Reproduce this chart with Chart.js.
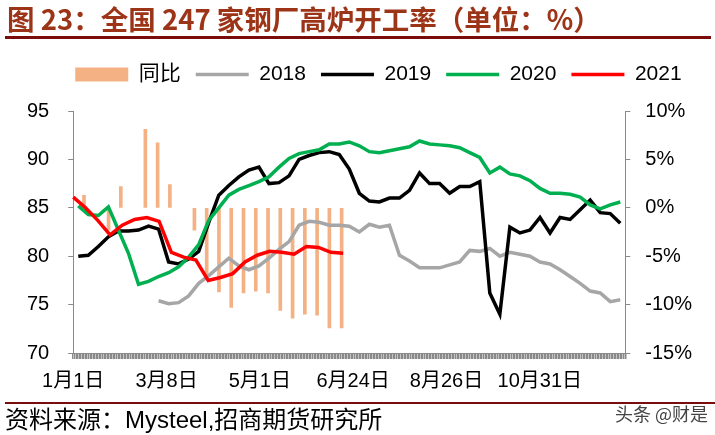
<!DOCTYPE html>
<html>
<head>
<meta charset="utf-8">
<script src="https://cdn.jsdelivr.net/npm/chart.js@4.4.0/dist/chart.umd.min.js"></script>
<style>
  html, body { margin: 0; padding: 0; background: #fff; }
  #wrap { position: relative; width: 715px; height: 435px; overflow: hidden; font-family: "Liberation Sans", "Noto Sans CJK SC", sans-serif; }
  #chart { position: absolute; left: 0; top: 0; }
  .title { position: absolute; left: 7px; top: 5px; line-height: 1; font-family: "Noto Sans CJK SC", sans-serif; font-size: 27.5px; font-weight: bold; color: #9c3418; white-space: nowrap; }
  .rule-top { position: absolute; left: 5px; top: 36px; width: 706px; height: 3px; background: #7b0c0c; }
  .rule-bottom { position: absolute; left: 5px; top: 402px; width: 710px; height: 2px; background: #7b0c0c; }
  .source { position: absolute; left: 5px; top: 408px; line-height: 1; font-size: 24px; color: #000; white-space: nowrap; }
  .mark { position: absolute; left: 615px; top: 404px; line-height: 1; font-family: "Noto Sans CJK SC", sans-serif; font-size: 18px; color: #444; white-space: nowrap; text-shadow: 0 0 2px #fff; }
</style>
</head>
<body>
<div id="wrap">
  <canvas id="chart" width="715" height="435"></canvas>
  <div class="title">图 23：全国 247 家钢厂高炉开工率（单位：%）</div>
  <div class="rule-top"></div>
  <div class="rule-bottom"></div>
  <div class="source">资料来源：Mysteel,招商期货研究所</div>
  <div class="mark">头条 @财是</div>
</div>
<script>
// 横轴标签
const xTickLabels = ['1月1日', '3月8日', '5月1日', '6月24日', '8月26日', '10月31日'];

// 2018-2020 周度数据 (55 周)
const weeks = Array.from({ length: 55 }, (_, i) => '第' + (i + 1) + '周');
// 2021 及同比 (次坐标轴)
const weeks2021 = Array.from({ length: 46 }, (_, i) => '第' + (i + 1) + '周');

const s2018 = [null, null, null, null, null, null, null, null,
  75.4, 75.1, 75.2, 75.9, 77.2, 78.0, 78.9, 79.8, 79.0, 78.6, 79.0, 79.8,
  80.7, 81.5, 83.2, 83.6, 83.5, 83.2, 83.2, 83.1, 82.5, 83.3, 83.0, 83.2,
  80.1, 79.5, 78.8, 78.8, 78.8, 79.1, 79.4, 80.6, 80.5, 80.8, 80.0, 80.4,
  80.2, 80.0, 79.4, 79.2, 78.6, 77.9, 77.2, 76.4, 76.2, 75.3, 75.5];

const s2019 = [80.0, 80.1, 81.0, 82.0, 82.6, 82.6, 82.7, 83.1, 82.8, 79.4,
  79.2, 79.7, 80.5, 83.5, 86.3, 87.3, 88.2, 88.9, 89.2, 87.5, 87.6, 88.3,
  90.0, 90.4, 90.7, 90.8, 90.5, 89.0, 86.5, 85.7, 85.6, 86.0, 86.0, 86.8,
  88.6, 87.5, 87.5, 86.5, 87.2, 87.2, 87.7, 76.2, 74.0, 83.0, 82.4, 82.7,
  84.0, 82.4, 84.0, 83.8, 84.8, 85.8, 84.5, 84.4, 83.4];

const s2020 = [85.2, 84.3, 84.2, 85.1, 82.7, 80.3, 77.1, 77.4, 77.9, 78.3,
  78.9, 79.9, 81.2, 83.7, 85.0, 86.3, 86.9, 87.3, 87.7, 88.2, 89.2, 90.1,
  90.6, 90.8, 91.0, 91.6, 91.6, 91.8, 91.4, 90.8, 90.7, 90.9, 91.1, 91.3,
  91.9, 91.6, 91.5, 91.4, 91.2, 90.7, 90.2, 88.6, 89.2, 88.5, 88.3, 87.8,
  87.0, 86.5, 86.5, 86.4, 86.1, 85.3, 84.9, 85.3, 85.6];

const s2021 = [86.1, 85.0, 83.7, 82.2, 83.2, 83.8, 84.0, 83.6, 80.4, 79.9,
  79.6, 77.5, 77.8, 78.2, 79.4, 80.1, 80.5, 80.4, 80.2, 81.0, 80.9, 80.4, 80.3];

// 同比 (%)
const yoy = [null, 1.3, null, -2.3, 2.2, null, 8.1, 6.7, 2.4, null,
  -2.3, -7.0, -8.7, -10.3, -8.8, -8.6, -8.8, -10.6, -11.4, -11.0, -11.1, -12.4, -12.4];

const fontFamily = '"Liberation Sans", "Noto Sans CJK SC", sans-serif';
Chart.defaults.font.family = fontFamily;
Chart.defaults.color = '#000';

// 图例位置微调: 左端对齐绘图区, 上移
const legendNudge = {
  id: 'legendNudge',
  afterLayout(chart) {
    const lg = chart.legend;
    const dx = chart.chartArea.left + 2 - lg.left - lg.options.labels.padding;
    lg.left += dx; lg.right += dx;
    lg.top -= 16; lg.bottom -= 16;
  }
};

const axisGrey = '#8a8a8a';

new Chart(document.getElementById('chart'), {
  type: 'line',
  data: {
    labels: weeks,
    datasets: [
      {
        type: 'bar',
        label: '同比',
        data: yoy,
        xAxisID: 'x2',
        yAxisID: 'y2',
        backgroundColor: '#F4B183',
        borderWidth: 0,
        barThickness: 3,
        pointStyle: 'rect',
        order: 5
      },
      {
        label: '2018',
        data: s2018,
        borderColor: '#A6A6A6',
        backgroundColor: '#A6A6A6',
        borderWidth: 3.5,
        order: 4
      },
      {
        label: '2019',
        data: s2019,
        borderColor: '#000000',
        backgroundColor: '#000000',
        borderWidth: 3.5,
        order: 3
      },
      {
        label: '2020',
        data: s2020,
        borderColor: '#00B050',
        backgroundColor: '#00B050',
        borderWidth: 3.5,
        order: 2
      },
      {
        label: '2021',
        data: s2021,
        xAxisID: 'x2',
        borderColor: '#FF0000',
        backgroundColor: '#FF0000',
        borderWidth: 3.5,
        order: 1
      }
    ]
  },
  options: {
    responsive: false,
    animation: false,
    layout: { padding: { left: 8, right: 8, top: 65, bottom: 32 } },
    elements: {
      line: { tension: 0 },
      point: { radius: 0, hoverRadius: 0, pointStyle: 'line' }
    },
    plugins: {
      legend: {
        position: 'top',
        align: 'start',
        labels: {
          usePointStyle: true,
          pointStyleWidth: 53,
          boxHeight: 14,
          padding: 15,
          font: { size: 21 },
          sort: (a, b) => a.datasetIndex - b.datasetIndex
        }
      },
      tooltip: { enabled: false }
    },
    scales: {
      x: {
        type: 'category',
        display: false,
        offset: true
      },
      x2: {
        type: 'category',
        labels: weeks2021,
        display: false,
        offset: false
      },
      xb: {
        type: 'linear',
        position: 'bottom',
        min: 0,
        max: 355,
        grid: { drawOnChartArea: false, tickLength: 6, color: axisGrey, lineWidth: 1.5 },
        border: { color: axisGrey, width: 1 },
        ticks: {
          stepSize: 1,
          autoSkip: false,
          maxRotation: 0,
          minRotation: 0,
          padding: 10,
          font: { size: 20 },
          callback: (v) => (v % 60 === 0 && v / 60 < xTickLabels.length) ? xTickLabels[v / 60] : ''
        }
      },
      y: {
        position: 'left',
        min: 70,
        max: 95,
        grid: { drawOnChartArea: false, tickLength: 5, color: axisGrey },
        border: { color: axisGrey },
        ticks: { stepSize: 5, padding: 19, font: { size: 20 } }
      },
      y2: {
        position: 'right',
        min: -15,
        max: 10,
        grid: { drawOnChartArea: false, tickLength: 5, color: axisGrey },
        border: { color: axisGrey },
        ticks: { stepSize: 5, padding: 15, font: { size: 20 }, callback: (v) => v + '%' }
      }
    }
  },
  plugins: [legendNudge]
});
</script>
</body>
</html>
